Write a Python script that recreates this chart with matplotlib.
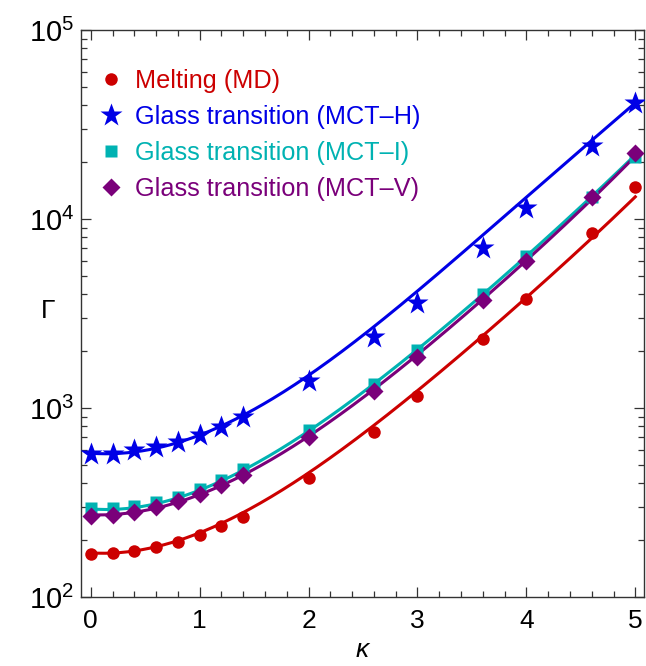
import numpy as np
import matplotlib
matplotlib.use('Agg')
import matplotlib.pyplot as plt
from matplotlib.lines import Line2D
from matplotlib.ticker import MultipleLocator, LogLocator, NullFormatter

plt.rcParams['font.family'] = ['Liberation Sans', 'DejaVu Sans']
plt.rcParams['mathtext.fontset'] = 'custom'
plt.rcParams['mathtext.rm'] = 'Liberation Sans'
plt.rcParams['mathtext.it'] = 'Liberation Sans:italic'

# Simulation / theory points
kappa = [0, 0.2, 0.4, 0.6, 0.8, 1.0, 1.2, 1.4, 2.0, 2.6, 3.0, 3.6, 4.0, 4.6, 5.0]
gamma_md = [169, 170, 175, 183, 195, 214, 238, 266, 428, 750, 1157, 2320, 3780, 8400, 14800]
gamma_mct_h = [571, 571, 600, 624, 663, 720, 791, 899, 1390, 2380, 3580, 7000, 11400, 24300, 41000]
gamma_mct_i = [294, 297, 304, 318, 340, 373, 416, 475, 765, 1340, 2030, 4000, 6390, 13000, 21400]
gamma_mct_v = [269, 272, 282, 299, 322, 351, 390, 442, 705, 1235, 1870, 3730, 6000, 13000, 22300]

kappa_fit = [0, 0.5, 1.0, 1.5, 2.0, 2.5, 3.0, 3.5, 4.0, 4.5, 5.0]
fit_md = [171, 180, 218, 300, 455, 735, 1230, 2150, 3850, 7000, 13100]
fit_mct_h = [575, 600, 725, 960, 1500, 2450, 4200, 7200, 13000, 23500, 41000]
fit_mct_i = [292, 305, 370, 490, 770, 1220, 2030, 3550, 6350, 11700, 21800]
fit_mct_v = [272, 288, 350, 465, 720, 1140, 1900, 3350, 6050, 11200, 21500]

red = '#cc0000'
blue = '#0000e6'
teal = '#00b2b2'
purple = '#7a007a'


def smooth(xs, ys, x_dense):
    coef = np.polyfit(xs, np.log10(ys), 5)
    return 10 ** np.polyval(coef, x_dense)


fig = plt.figure(figsize=(6.46, 6.66), dpi=100)
ax = fig.add_axes([81 / 646, 1 - 597 / 666, 563 / 646, 567 / 666])

k_dense = np.linspace(0, 5, 300)
ax.plot(k_dense, smooth(kappa_fit, fit_md, k_dense), color=red, lw=2.2, zorder=2)
ax.plot(k_dense, smooth(kappa_fit, fit_mct_h, k_dense), color=blue, lw=2.2, zorder=2)
ax.plot(k_dense, smooth(kappa_fit, fit_mct_i, k_dense), color=teal, lw=2.2, zorder=2)
ax.plot(k_dense, smooth(kappa_fit, fit_mct_v, k_dense), color=purple, lw=2.2, zorder=2)

ax.plot(kappa, gamma_md, 'o', color=red, ms=9, mec='none', zorder=3)
ax.plot(kappa, gamma_mct_h, '*', color=blue, ms=17, mec='none', zorder=3)
ax.plot(kappa, gamma_mct_i, 's', color=teal, ms=8, mec='none', zorder=3)
ax.plot(kappa, gamma_mct_v, 'D', color=purple, ms=9, mec='none', zorder=4)

ax.set_yscale('log')
ax.set_xlim(-0.09, 5.08)
ax.set_ylim(100, 1e5)

ax.xaxis.set_major_locator(MultipleLocator(1))
ax.xaxis.set_minor_locator(MultipleLocator(0.2))
ax.yaxis.set_major_locator(LogLocator(base=10))
ax.yaxis.set_minor_locator(LogLocator(base=10, subs=np.arange(2, 10)))
ax.yaxis.set_minor_formatter(NullFormatter())

ax.tick_params(which='both', direction='in', top=True, right=True, width=0.9, color='#333333')
ax.tick_params(which='major', length=7)
ax.tick_params(which='minor', length=4)
ax.tick_params(axis='x', pad=9, labelsize=19)
ax.tick_params(axis='y', pad=5, labelsize=21)
for sp in ax.spines.values():
    sp.set_color('#333333')
    sp.set_linewidth(1.0)

ax.set_xlabel('κ', fontsize=19, style='italic')
ax.xaxis.set_label_coords(0.5, -0.072)
ax.set_ylabel('Γ', fontsize=19, rotation=0, va='center')
ax.yaxis.set_label_coords(-0.058, 0.505)

handles = [
    Line2D([], [], ls='none', marker='o', color=red, ms=9, mec='none'),
    Line2D([], [], ls='none', marker='*', color=blue, ms=17, mec='none'),
    Line2D([], [], ls='none', marker='s', color=teal, ms=8, mec='none'),
    Line2D([], [], ls='none', marker='D', color=purple, ms=9, mec='none'),
]
labels = ['Melting (MD)', 'Glass transition (MCT–H)',
          'Glass transition (MCT–I)', 'Glass transition (MCT–V)']
ax.legend(handles, labels, loc='upper left', bbox_to_anchor=(0.0, 0.962),
          frameon=False, fontsize=18.2, labelcolor='linecolor',
          handlelength=1.0, handletextpad=0.42, labelspacing=0.47,
          borderaxespad=0.3)

plt.savefig('out.png', dpi=100)
